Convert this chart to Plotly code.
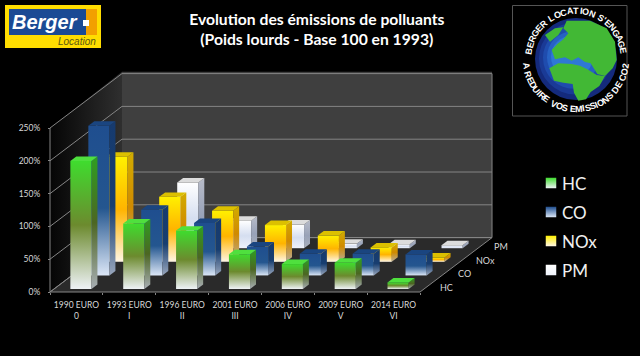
import math
import plotly.graph_objects as go

title_lines = ["Evolution des émissions de polluants", "(Poids lourds - Base 100 en 1993)"]
categories = ["1990 EURO<br>0", "1993 EURO<br>I", "1996 EURO<br>II", "2001 EURO<br>III",
              "2006 EURO<br>IV", "2009 EURO<br>V", "2014 EURO<br>VI"]
series_names = ["HC", "CO", "NOx", "PM"]
hc = [195, 100, 89, 53, 38, 40, 10]
co = [228, 100, 80, 44, 33, 33, 32]
nox = [160, 99, 78, 56, 40, 22, 6.5]
pm = [None, 100, 42, 36, 7, 6, 4.5]
y_ticks = [0, 50, 100, 150, 200, 250]
y_labels = ["0%", "50%", "100%", "150%", "200%", "250%"]
series_values = [hc, co, nox, pm]

# axis <-> picture: x in categories, y in percent
W, H = 640, 356
X0, CAT = 50.0, 52.86
Y0, PCT = 292.0, 0.656
XR = [-X0 / CAT, (W - X0) / CAT]
YR = [-(H - Y0) / PCT, Y0 / PCT]
ROW_DX, ROW_DY = 18.0 / CAT, 13.6 / PCT   # one series row of depth, in axis units


def proj(c, v, r):
    return c + r * ROW_DX, v + r * ROW_DY


def px(xp, yp):
    return (xp - X0) / CAT, (Y0 - yp) / PCT


def poly(points):
    xs = [p[0] for p in points] + [points[0][0]]
    ys = [p[1] for p in points] + [points[0][1]]
    return xs, ys


# gradient scales run from the foot of a bar (0) to its head (1)
styles = [
    dict(front=[[0, "#eef2f6"], [0.5, "#6c8a2e"], [1, "#3fdc2e"]],
         side=[[0, "#a8aeb4"], [0.5, "#4c6622"], [1, "#2f9e22"]], top="#4fe03e"),
    dict(front=[[0, "#dbe6f6"], [0.45, "#24568f"], [1, "#1f4e8f"]],
         side=[[0, "#98a6bc"], [0.45, "#183e70"], [1, "#163a6e"]], top="#1a4580"),
    dict(front=[[0, "#fff6e6"], [0.5, "#ffb400"], [1, "#fff000"]],
         side=[[0, "#b8ae9c"], [0.5, "#d08a00"], [1, "#d2ac00"]], top="#dcc000"),
    dict(front=[[0, "#eef2fa"], [0.45, "#d5def0"], [1, "#ffffff"]],
         side=[[0, "#aab0bc"], [0.45, "#98a2b8"], [1, "#b8bcc8"]], top="#dcdcdc"),
]

fig = go.Figure()


def face(points, color=None, scale=None, kind="vertical"):
    xs, ys = poly(points)
    kw = dict(x=xs, y=ys, mode="lines", line=dict(width=0), fill="toself",
              hoverinfo="skip", showlegend=False)
    if scale:
        kw["fillgradient"] = dict(type=kind, colorscale=scale)
        kw["fillcolor"] = scale[0][1]
    else:
        kw["fillcolor"] = color
    fig.add_trace(go.Scatter(**kw))


n = len(categories)
depth = 4
top_v = y_ticks[-1]
# walls and floor
face([proj(0, 0, 0), proj(0, 0, depth), proj(0, top_v + 3, depth), proj(0, top_v, 0)],
     scale=[[0, "#050505"], [1, "#2f2f2f"]], kind="horizontal")
face([proj(0, 0, depth), proj(n, 0, depth), proj(n, top_v + 3, depth), proj(0, top_v + 3, depth)],
     color="#3f3f3f")
face([proj(0, 0, 0), proj(n, 0, 0), proj(n, 0, depth), proj(0, 0, depth)], color="#2a2a2a")
# grid
gx, gy = [], []
for v in y_ticks:
    for c, r in [(0, 0), (0, depth), (n, depth)]:
        a, b = proj(c, v, r)
        gx.append(a)
        gy.append(b)
    gx.append(None)
    gy.append(None)
for pts in [[(0, 0, 0), (0, top_v, 0)], [(0, 0, 0), (n, 0, 0), (n, 0, depth), (n, top_v, depth)],
            [(0, 0, 0), (0, 0, depth)], [(0, 0, depth), (n, 0, depth)]]:
    for p in pts:
        a, b = proj(*p)
        gx.append(a)
        gy.append(b)
    gx.append(None)
    gy.append(None)
fig.add_trace(go.Scatter(x=gx, y=gy, mode="lines", line=dict(color="#858585", width=1),
                         hoverinfo="skip", showlegend=False))

# bars, back row first
U0, U1 = 0.31, 0.71
V0, V1 = 0.22, 0.55
for r in reversed(range(depth)):
    st = styles[r]
    for i, val in enumerate(series_values[r]):
        if val is None:
            continue
        a, b = i + U0, i + U1
        f, g = r + V0, r + V1
        face([proj(a, 0, f), proj(b, 0, f), proj(b, val, f), proj(a, val, f)], scale=st["front"])
        face([proj(b, 0, f), proj(b, 0, g), proj(b, val, g), proj(b, val, f)], scale=st["side"])
        face([proj(a, val, f), proj(b, val, f), proj(b, val, g), proj(a, val, g)], color=st["top"])

# legend: names from the native legend, swatches placed beside them
legend_rows = [183, 212, 241, 270]
for r, name in enumerate(series_names):
    sx, sy = px(551, legend_rows[r])
    fig.add_trace(go.Scatter(x=[None], y=[None], mode="markers", name=name, legendgroup=name,
                             marker=dict(symbol="square", size=1, color="rgba(0,0,0,0)")))
    fig.add_trace(go.Scatter(x=[sx], y=[sy], mode="markers", showlegend=False, hoverinfo="skip",
                             marker=dict(symbol="square", size=10.5, color=styles[r]["front"][-1][1],
                                         gradient=dict(type="vertical", color=styles[r]["front"][0][1]))))

ann = []
# depth axis labels
for r, name in enumerate(series_names):
    x, y = proj(n, 0, r + 0.5)
    ann.append(dict(x=x, y=y, text=name, xref="x", yref="y", showarrow=False, xanchor="left",
                    xshift=9, yshift=-2, font=dict(family="Lato", size=9, color="#d8d8d8")))


def shape_path(points, fill, line=None):
    s = "M " + " L ".join(f"{a},{b}" for a, b in [px(*p) for p in points]) + " Z"
    return dict(type="path", path=s, fillcolor=fill, line=dict(width=0), xref="x", yref="y", layer="above")


def rect(x0, y0, x1, y1, fill, line=None, width=0):
    a0, b0 = px(x0, y0)
    a1, b1 = px(x1, y1)
    return dict(type="rect", x0=a0, y0=b0, x1=a1, y1=b1, xref="x", yref="y", fillcolor=fill,
                line=dict(width=width, color=line or fill), layer="above")


def circle(cx, cy, rad, fill):
    a0, b0 = px(cx - rad, cy - rad)
    a1, b1 = px(cx + rad, cy + rad)
    return dict(type="circle", x0=a0, y0=b0, x1=a1, y1=b1, xref="x", yref="y", fillcolor=fill,
                line=dict(width=0), layer="above")


shapes = []
# Berger logo
shapes.append(rect(5, 5, 101, 48, "#ffdd00"))
shapes.append(rect(85, 9, 97, 35, "#f2a000"))
shapes.append(rect(9, 9, 86, 35, "#1b4a94"))
shapes.append(rect(83, 20, 89, 26, "#ffffff"))
ann.append(dict(x=px(45, 22)[0], y=px(45, 22)[1], text="<b><i>Berger</i></b>", showarrow=False,
                font=dict(family="Liberation Sans", size=20, color="#ffffff")))
ann.append(dict(x=px(77, 41)[0], y=px(77, 41)[1], text="<i>Location</i>", showarrow=False,
                font=dict(family="Liberation Sans", size=10, color="#5a5a10")))

# globe logo
shapes.append(rect(512.5, 5.5, 627, 116, "#000000", "#555555", 1))
GX, GY, GR = 576.0, 59.0, 41.0
blues = ["#142a7c", "#1a3a96", "#1f4cae", "#2762c4", "#2f78d4"]
for k, col in enumerate(blues):
    shapes.append(circle(GX - k * 1.0, GY - k * 0.6, GR - k * 5, col))


def z(points):  # points read in the zoomed logo crop
    return [(500 + a / 3, b / 3) for a, b in points]


land = [
    [(200, 62), (270, 62), (320, 85), (345, 125), (350, 180), (338, 205), (315, 228), (292, 222),
     (272, 190), (255, 186), (235, 172), (215, 182), (195, 172), (165, 178), (155, 150), (172, 132),
     (190, 118), (205, 100), (190, 85)],
    [(148, 205), (175, 190), (215, 192), (240, 197), (262, 208), (290, 225), (315, 228), (298, 258),
     (272, 276), (258, 298), (235, 302), (222, 278), (218, 252), (190, 248), (162, 242)],
    [(135, 105), (165, 85), (190, 82), (175, 105), (150, 125)],
]
for poly_pts in land:
    shapes.append(shape_path(z(poly_pts), "#42b835"))


def arc(text, start, end, rad, bottom=False):
    narrow = {"I": 0.45, "'": 0.4, " ": 0.5, "M": 1.15, "O": 1.05, "G": 1.05, "E": 0.9, "S": 0.9}
    w = [narrow.get(ch, 1.0) for ch in text]
    total = sum(w) - (w[0] + w[-1]) / 2
    pos = 0.0
    for k, ch in enumerate(text):
        if k:
            pos += (w[k - 1] + w[k]) / 2
        if ch == " ":
            continue
        ang = start + (end - start) * pos / total
        t = math.radians(ang)
        xp = GX + rad * math.sin(t)
        yp = GY - rad * math.cos(t)
        rot = ang - 180 if bottom else ang
        a, b = px(xp, yp)
        ann.append(dict(x=a, y=b, text=f"<b>{ch}</b>", textangle=rot, showarrow=False, xref="x", yref="y",
                        font=dict(family="Liberation Sans", size=9, color="#ffffff")))


arc("BERGER LOCATION S'ENGAGE", -80, 80, 48)
arc("A REDUIRE VOS EMISSIONS DE CO2", 262, 98, 50, bottom=True)

fig.update_layout(
    width=W, height=H, margin=dict(l=0, r=0, t=0, b=0), autosize=False,
    paper_bgcolor="#000000", plot_bgcolor="#000000",
    title=dict(text="<br>".join(f"<b>{t}</b>" for t in title_lines), x=0.495, xanchor="center", y=0.93, yanchor="top",
               font=dict(family="Lato", size=15.7, color="#ffffff")),
    xaxis=dict(range=XR, showgrid=False, zeroline=False, showline=False, anchor="free",
               position=(H - Y0) / H, tickmode="array", tickvals=[i + 0.5 for i in range(n)],
               ticktext=categories, ticks="", tickfont=dict(family="Lato", size=8.5, color="#d8d8d8"),
               minor=dict(tickmode="array", tickvals=list(range(n + 1)), ticks="outside", ticklen=2,
                          tickcolor="#858585", showgrid=False), ticklabelstandoff=6),
    yaxis=dict(range=YR, showgrid=False, zeroline=False, showline=False, anchor="free",
               position=X0 / W, tickmode="array", tickvals=y_ticks, ticktext=y_labels,
               ticks="outside", ticklen=2, tickcolor="#858585", ticklabelstandoff=6,
               tickfont=dict(family="Lato", size=8.5, color="#d8d8d8")),
    legend=dict(x=530 / W, y=1 - 166 / H, xanchor="left", yanchor="top", bgcolor="rgba(0,0,0,0)",
                font=dict(family="Lato", size=17, color="#f0f0f0"), tracegroupgap=4, indentation=-8),
    showlegend=True, shapes=shapes, annotations=ann, hovermode=False,
)
fig.write_html("out.html", config={"displayModeBar": False},
               post_script="document.body.style.margin='0';document.body.style.background='#000';")
